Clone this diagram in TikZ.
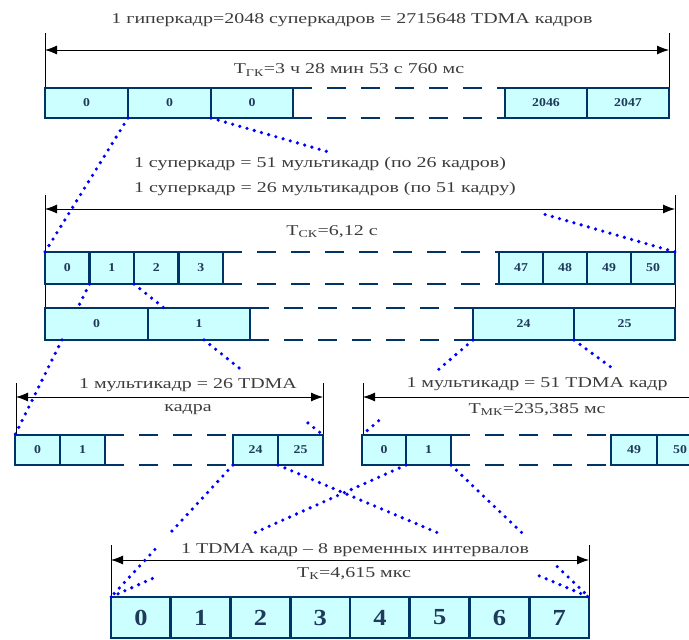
\documentclass[tikz,border=0pt]{standalone}
\usepackage{fontspec}
\setmainfont{Liberation Serif}
\newfontfamily\annfont{Liberation Serif}[FakeStretch=1.33]
\newfontfamily\cellfont{Liberation Serif}[FakeStretch=1.15]
\usetikzlibrary{calc,arrows.meta}
\definecolor{boxfill}{HTML}{CCFFFF}
\definecolor{boxline}{HTML}{003366}
\definecolor{celltxt}{HTML}{1F3A5A}
\definecolor{anntxt}{HTML}{3C3C3C}
\definecolor{dotblue}{HTML}{0000FF}
\newcommand\cellat[6]{\node[cellbox, minimum width=#4pt, minimum height=#5pt] (#1) at (#2,#3) {#6};}
\newcommand\zseg[4]{\draw[zoomline] ($(#1)!#3!(#2)$) -- ($(#1)!#4!(#2)$);}
\begin{document}
\begin{tikzpicture}[x=1pt,y=-1pt,
  cellbox/.style={draw=boxline, fill=boxfill, line width=2.8pt, inner sep=0pt, outer sep=0pt,
    font=\cellfont\bfseries\fontsize{12}{12}\selectfont, text=celltxt},
  bigcell/.style={cellbox, font=\cellfont\bfseries\fontsize{23}{23}\selectfont},
  gapline/.style={draw=boxline, line width=2.8pt, dash pattern=on 19pt off 15pt},
  dimline/.style={draw=black, line width=0.8pt},
  dimarrow/.style={draw=black, line width=0.8pt, {Latex[length=12pt,width=9pt]}-{Latex[length=12pt,width=9pt]}},
  zoomline/.style={draw=dotblue, line width=3.6pt, line cap=round, dash pattern=on 0pt off 7.5pt},
  ann/.style={text=anntxt, font=\annfont\fontsize{15}{15}\selectfont, inner sep=0pt},
]
\useasboundingbox (0,0) rectangle (689,640);
\clip (0,0) rectangle (689,640);

% dimension line end points
\coordinate (g1) at (45,33);  \coordinate (g2) at (669,33);
\coordinate (ga1) at (45,50); \coordinate (ga2) at (669,50);
\coordinate (s1) at (45,195); \coordinate (s2) at (675,195);
\coordinate (sa1) at (45,209); \coordinate (sa2) at (675,209);
\coordinate (m1) at (16,383); \coordinate (m2) at (323,383);
\coordinate (ma1) at (16,397); \coordinate (ma2) at (323,397);
\coordinate (n1) at (363,383);
\coordinate (na1) at (363,397); \coordinate (na2) at (720,397);
\coordinate (k1) at (111,545); \coordinate (k2) at (589,545);
\coordinate (ka1) at (111,560); \coordinate (ka2) at (589,560);
\coordinate (bB1) at (45,308); \coordinate (bB2) at (675,308);
\coordinate (cC1) at (16,435); \coordinate (cC2) at (323,435);
\coordinate (dD1) at (363,435);
\coordinate (eE1) at (111,597); \coordinate (eE2) at (589,597);
\coordinate (hH1) at (45,88); \coordinate (hH2) at (669,88);

\draw[dimline] (g1) -- (hH1);  \draw[dimline] (g2) -- (hH2);
\draw[dimarrow] (ga1) -- (ga2);
\draw[dimline] (s1) -- (bB1);  \draw[dimline] (s2) -- (bB2);
\draw[dimarrow] (sa1) -- (sa2);
\draw[dimline] (m1) -- (cC1);  \draw[dimline] (m2) -- (cC2);
\draw[dimarrow] (ma1) -- (ma2);
\draw[dimline] (n1) -- (dD1);
\draw[dimarrow] (na1) -- (na2);
\draw[dimline] (k1) -- (eE1);  \draw[dimline] (k2) -- (eE2);
\draw[dimarrow] (ka1) -- (ka2);

% texts
\node[ann] (title) at (352,20) {1 гиперкадр=2048 суперкадров = 2715648 TDMA кадров};
\node[ann] (tgk) at (349,70) {T\textsubscript{ГК}=3 ч 28 мин 53 с 760 мс};
\node[ann] (sk1) at (320,164) {1 суперкадр = 51 мультикадр (по 26 кадров)};
\node[ann] (sk2) at (325,189) {1 суперкадр = 26 мультикадров (по 51 кадру)};
\node[ann] (tsk) at (332,232) {T\textsubscript{СК}=6,12 с};
\node[ann] (mk1) at (188,385) {1 мультикадр = 26 TDMA};
\node[ann] (mk2) at (188,410) {кадра};
\node[ann] (mk3) at (537,384) {1 мультикадр = 51 TDMA кадр};
\node[ann] (tmk) at (537,410) {T\textsubscript{МК}=235,385 мс};
\node[ann] (kt1) at (355,550) {1 TDMA кадр – 8 временных интервалов};
\node[ann] (tk) at (354,574) {T\textsubscript{К}=4,615 мкс};

% hyperframe row
\cellat{h0}{86.5}{103}{83}{30}{0}
\cellat{h1}{169.5}{103}{83}{30}{0}
\cellat{h2}{252}{103}{82}{30}{0}
\cellat{h3}{546}{103}{82}{30}{2046}
\cellat{h4}{628}{103}{82}{30}{2047}
\draw[gapline] (h2.north east) -- (h3.north west);
\draw[gapline] (h2.south east) -- (h3.south west);
% superframe row (51 multiframes)
\cellat{a0}{67.25}{268}{44.5}{32}{0}
\cellat{a1}{111.75}{268}{44.5}{32}{1}
\cellat{a2}{156.25}{268}{44.5}{32}{2}
\cellat{a3}{200.75}{268}{44.5}{32}{3}
\cellat{a4}{521}{268}{44}{32}{47}
\cellat{a5}{565}{268}{44}{32}{48}
\cellat{a6}{609}{268}{44}{32}{49}
\cellat{a7}{653}{268}{44}{32}{50}
\draw[gapline] (a3.north east) -- (a4.north west);
\draw[gapline] (a3.south east) -- (a4.south west);
% superframe row (26 multiframes)
\cellat{b0}{96.5}{324}{103}{32}{0}
\cellat{b1}{199}{324}{102}{32}{1}
\cellat{b2}{523.5}{324}{101}{32}{24}
\cellat{b3}{624.5}{324}{101}{32}{25}
\draw[gapline] (b1.north east) -- (b2.north west);
\draw[gapline] (b1.south east) -- (b2.south west);
% 26-frame multiframe
\cellat{c0}{37.5}{450}{45}{30}{0}
\cellat{c1}{82.5}{450}{45}{30}{1}
\cellat{c2}{255.5}{450}{45}{30}{24}
\cellat{c3}{300.5}{450}{45}{30}{25}
\draw[gapline] (c1.north east) -- (c2.north west);
\draw[gapline] (c1.south east) -- (c2.south west);
% 51-frame multiframe
\cellat{d0}{384}{450}{44}{30}{0}
\cellat{d1}{428.5}{450}{45}{30}{1}
\cellat{d2}{634}{450}{46}{30}{49}
\cellat{d3}{680}{450}{46}{30}{50}
\draw[gapline] (d1.north east) -- (d2.north west);
\draw[gapline] (d1.south east) -- (d2.south west);
% TDMA frame
\foreach \i in {0,...,7}{
  \node[bigcell, minimum width=59.75pt, minimum height=41pt] (e\i) at ({140.875+\i*59.75},617.5) {\i};
}

% zoom (dotted) connectors
\zseg{h0.south east}{a0.north west}{0}{1}
\zseg{h1.south east}{a7.north east}{0}{0.26}
\zseg{h1.south east}{a7.north east}{0.72}{1}
\zseg{a1.south west}{c0.north west}{0}{0.16}
\zseg{a1.south west}{c0.north west}{0.37}{1}
\zseg{a1.south east}{c3.north east}{0}{0.16}
\zseg{a1.south east}{c3.north east}{0.37}{0.57}
\zseg{a1.south east}{c3.north east}{0.92}{1}
\zseg{b2.south west}{d0.north west}{0}{0.33}
\zseg{b2.south west}{d0.north west}{0.85}{1}
\zseg{b3.south west}{d3.north east}{0}{0.32}
\zseg{c2.south west}{e0.north west}{0}{0.53}
\zseg{c2.south west}{e0.north west}{0.64}{1}
\zseg{c3.south west}{e7.north east}{0}{0.53}
\zseg{c3.south west}{e7.north east}{0.84}{1}
\zseg{d1.south west}{e0.north west}{0}{0.53}
\zseg{d1.south west}{e0.north west}{0.86}{1}
\zseg{d1.south east}{e7.north east}{0}{0.53}
\zseg{d1.south east}{e7.north east}{0.77}{1}
\end{tikzpicture}
\end{document}
